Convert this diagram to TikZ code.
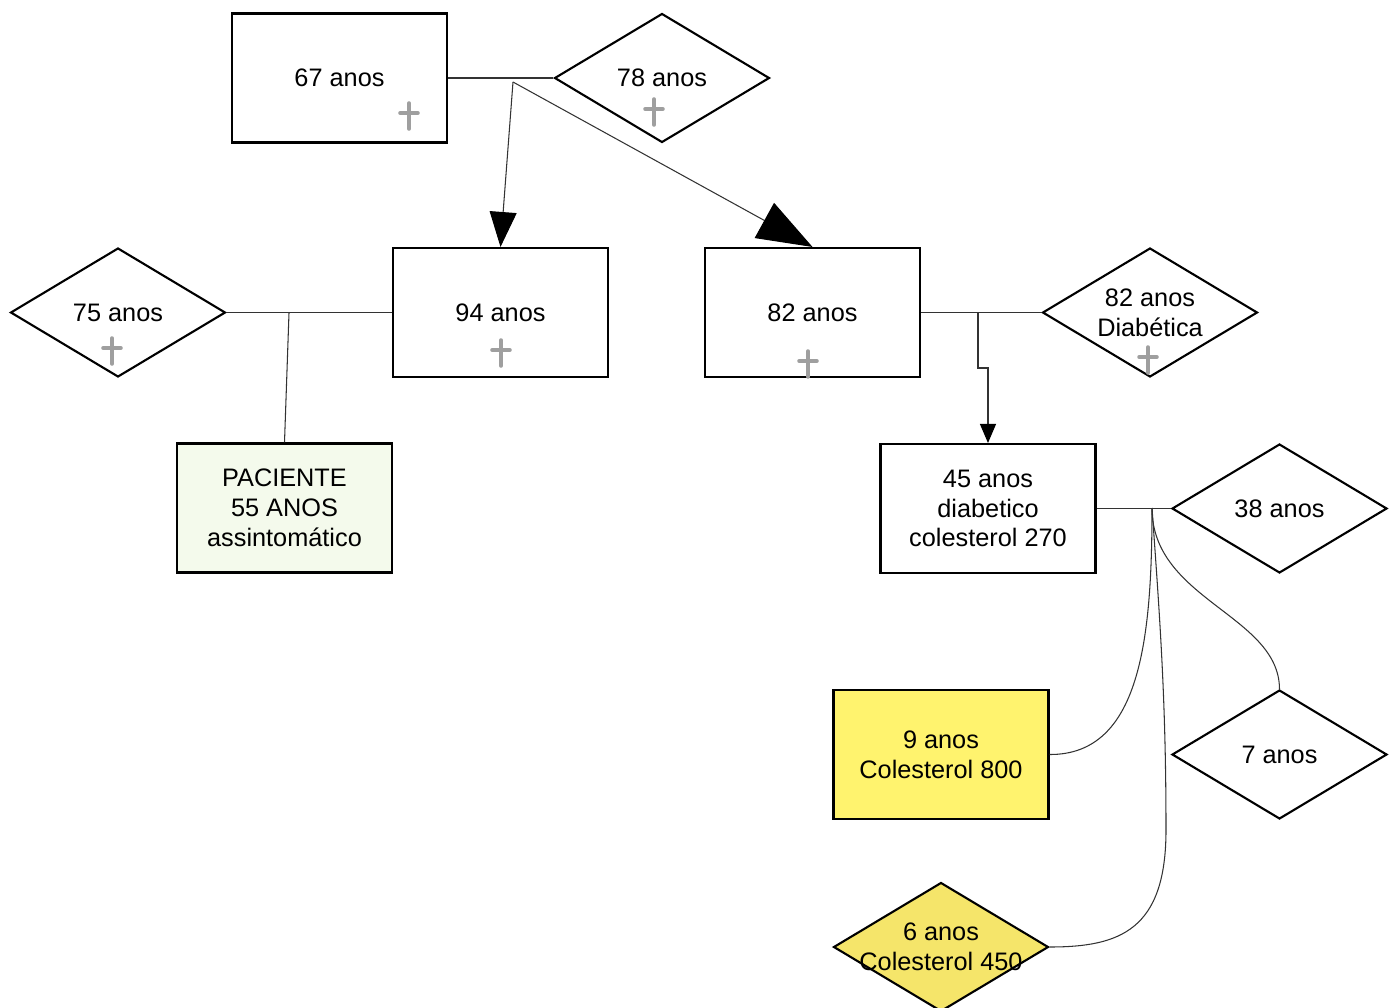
\documentclass[tikz,border=0pt]{standalone}
\usepackage{fontspec}
\setmainfont{Liberation Sans}
\usetikzlibrary{shapes.geometric,arrows.meta}

\definecolor{verdeclaro}{RGB}{244,250,236}
\definecolor{amarelo}{RGB}{255,243,110}
\definecolor{amarelo2}{RGB}{245,229,106}

\tikzset{
  caixa/.style={draw, line width=1.2pt, fill=white, minimum width=4.3cm,
    minimum height=2.58cm, inner sep=0pt, align=center,
    font=\fontsize{14.4}{17}\selectfont},
  losango/.style={caixa, diamond, aspect=1.68},
  linha/.style={line width=0.6pt, draw=black!80},
  cruz/.pic={\draw[line width=2pt, gray!75, line cap=round]
    (0,-13) -- (0,13) (-9,-3) -- (9,-3);}
}

\begin{document}
\begin{tikzpicture}[x=0.02cm, y=-0.02cm]
    \useasboundingbox (0,0) rectangle (1394,1008);

    % avos
    \node[caixa] (avo) at (339.5,78) {67 anos};
    \node[losango] (avoa) at (662,78) {78 anos};
    \pic at (409,116) {cruz};
    \pic at (654,112) {cruz};

    % pais
    \node[losango] (mae) at (118,312.5) {75 anos};
    \node[caixa] (pai) at (500.5,312.5) {94 anos};
    \node[caixa] (tio) at (812.5,312.5) {82 anos};
    \node[losango] (tia) at (1150,312.5) {82 anos\\Diabética};
    \pic at (112,351) {cruz};
    \pic at (501,353) {cruz};
    \pic at (808,364) {cruz};
    \pic at (1148,360) {cruz};

    % filhos
    \node[caixa, fill=verdeclaro] (paciente) at (284.5,508) {PACIENTE\\55 ANOS\\assintomático};
    \node[caixa] (primo) at (988,508.5) {45 anos\\diabetico\\colesterol 270};
    \node[losango] (prima) at (1279.5,508.5) {38 anos};

    % netos
    \node[caixa, fill=amarelo] (neto) at (941,754.5) {9 anos\\Colesterol 800};
    \node[losango] (neta) at (1279.5,754.5) {7 anos};
    \node[losango, fill=amarelo2,
      label={[align=center, font=\fontsize{14.4}{17}\selectfont]center:6 anos\\Colesterol 450}]
      (neta2) at (941,947) {};

    % ligacoes
    \coordinate (abr) at (513,82);
    \draw[linha] (avo.east) -- (avoa.west);
    \draw[linha, -{Triangle[length=0.7cm, width=0.54cm, black]}] (abr) -- (pai.north);
    \draw[linha, -{Triangle[length=1.1cm, width=0.8cm, black]}] (abr) -- (tio.north);

    \coordinate (pbr) at (289,313);
    \draw[linha] (mae.east) -- (pai.west);
    \draw[linha] (pbr) -- (paciente.north);

    \coordinate (tbr) at (978,313);
    \draw[linha] (tio.east) -- (tia.west);
    \draw[linha, -{Triangle[length=0.38cm, width=0.32cm, black]}]
      (tbr) -- (978,368) -- (988,368) -- (primo.north);

    \coordinate (hbr) at (1152,508);
    \draw[linha] (primo.east) -- (prima.west);
    \draw[linha] (hbr) .. controls (1152,640) and (1140,755) .. (neto.east);
    \draw[linha] (hbr) .. controls (1152,600) and (1279,615) .. (neta.north);
    \draw[linha] (hbr) .. controls (1160,620) and (1166,700) .. (1166,830)
      .. controls (1166,930) and (1120,947) .. (neta2.east);
\end{tikzpicture}
\end{document}
